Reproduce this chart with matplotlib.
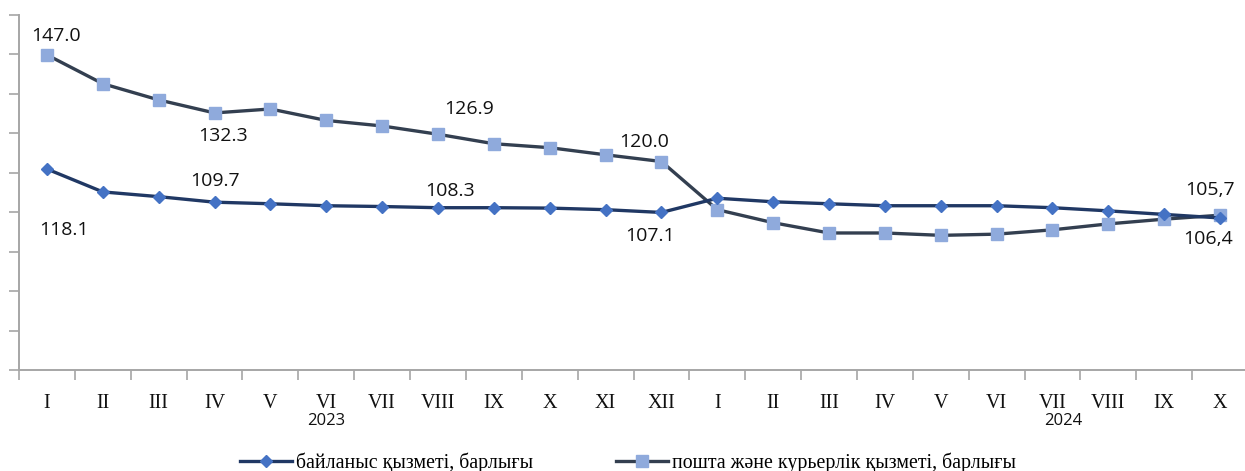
import numpy as np
import matplotlib.pyplot as plt
from matplotlib.lines import Line2D

months = ["I", "II", "III", "IV", "V", "VI", "VII", "VIII", "IX", "X", "XI", "XII",
          "I", "II", "III", "IV", "V", "VI", "VII", "VIII", "IX", "X"]
years = ["2023", "2024"]
year_pos = [5.0, 18.2]

# байланыс қызметі, барлығы
svyaz = [118.1, 112.3, 111.1, 109.7, 109.3, 108.8, 108.6, 108.3, 108.3, 108.2, 107.8, 107.1,
         110.7, 109.8, 109.3, 108.8, 108.8, 108.8, 108.3, 107.5, 106.6, 105.7]
# пошта және курьерлік қызметі, барлығы
pochta = [147.0, 139.7, 135.6, 132.3, 133.3, 130.4, 129.0, 126.9, 124.5, 123.5, 121.7, 120.0,
          107.8, 104.5, 101.9, 101.9, 101.3, 101.6, 102.7, 104.2, 105.4, 106.4]

# labelled points: (index, text, dx, dy) in pixels
pochta_labels = [(0, "147.0", 9, 19), (3, "132.3", 8, -23), (7, "126.9", 31, 25),
                 (11, "120.0", -17, 20), (21, "105,7", -10, 25)]
svyaz_labels = [(0, "118.1", 17, -61), (3, "109.7", 0, 21), (7, "108.3", 12, 17),
                (11, "107.1", -11, -24), (21, "106,4", -12, -21)]

x = np.arange(len(months))

fig = plt.figure(figsize=(12.45, 4.71), dpi=100)
ax = fig.add_axes([19 / 1245, 1 - 370 / 471, 1229 / 1245, 355 / 471])

ax.plot(x, pochta, color="#333F50", lw=2.4, marker="s", ms=8,
        markerfacecolor="#8FAADC", markeredgecolor="#8FAADC", zorder=3)
ax.plot(x, svyaz, color="#203864", lw=2.4, marker="D", ms=6.5,
        markerfacecolor="#4472C4", markeredgecolor="#4472C4", zorder=4)

lab_font = dict(family=["Open Sans", "DejaVu Sans"], size=14, color="#111111")
for i, t, dx, dy in pochta_labels:
    ax.annotate(t, (x[i], pochta[i]), xytext=(dx, dy), textcoords="offset pixels",
                ha="center", va="center", **lab_font)
for i, t, dx, dy in svyaz_labels:
    ax.annotate(t, (x[i], svyaz[i]), xytext=(dx, dy), textcoords="offset pixels",
                ha="center", va="center", **lab_font)

ax.set_xlim(-0.5, len(months) - 0.5)
ax.set_ylim(67.2, 157.1)
ax.set_yticks(np.linspace(67.2, 157.1, 10))
ax.set_yticklabels([])
ax.set_xticks(np.arange(-0.5, len(months), 1.0))
ax.set_xticklabels([])
ax.tick_params(axis="both", which="major", direction="out", length=7, width=1.2, color="#A6A6A6")

for sp in ["top", "right"]:
    ax.spines[sp].set_visible(False)
for sp in ["left", "bottom"]:
    ax.spines[sp].set_color("#A6A6A6")
    ax.spines[sp].set_linewidth(1.4)

trans = ax.get_xaxis_transform()
for i, m in enumerate(months):
    ax.text(i, 1 - (403 - 15) / 355, m, transform=trans, ha="center", va="center",
            family=["Liberation Serif", "DejaVu Serif"], size=14.5, color="#111111")
for p, yr in zip(year_pos, years):
    ax.text(p, 1 - (421 - 15) / 355, yr, transform=trans, ha="center", va="center",
            family=["Open Sans", "DejaVu Sans"], size=12, color="#111111")

handles = [
    Line2D([], [], color="#203864", lw=2.4, marker="D", ms=6.5,
           markerfacecolor="#4472C4", markeredgecolor="#4472C4"),
    Line2D([], [], color="#333F50", lw=2.4, marker="s", ms=8,
           markerfacecolor="#8FAADC", markeredgecolor="#8FAADC"),
]
fig.legend(handles, ["байланыс қызметі, барлығы", "пошта және курьерлік қызметі, барлығы"],
           loc="center", bbox_to_anchor=(628 / 1245, 1 - 463 / 471), ncol=2, frameon=False,
           handlelength=2.6, handletextpad=0.2, columnspacing=4.2,
           prop=dict(family=["Liberation Serif", "DejaVu Serif"], size=14.3))

fig.savefig("out.png", dpi=100)
